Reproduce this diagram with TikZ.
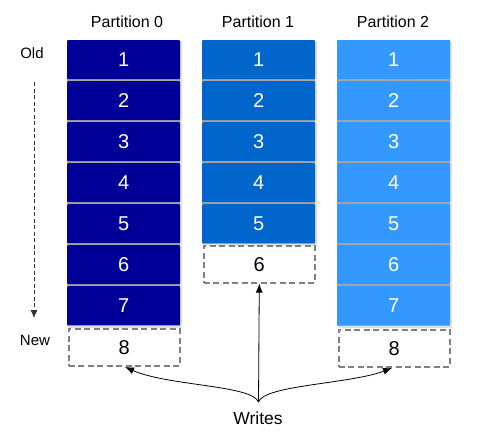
\documentclass[tikz,border=0pt]{standalone}
\usepackage{fontspec}
\setmainfont{Liberation Sans}
\usetikzlibrary{arrows.meta}
\definecolor{pzero}{RGB}{0,0,153}
\definecolor{pone}{RGB}{0,102,204}
\definecolor{ptwo}{RGB}{51,153,255}
\definecolor{sepgray}{RGB}{165,165,165}
\definecolor{dashgray}{RGB}{128,128,128}
\begin{document}
\begin{tikzpicture}[x=1pt,y=-1pt,
  blk/.style={anchor=north west,minimum width=113pt,minimum height=39pt,inner sep=0pt,rounded corners=1pt,text=white,font=\fontsize{20}{20}\selectfont},
  pending/.style={anchor=north west,minimum width=111pt,minimum height=37pt,inner sep=0pt,draw=dashgray,line width=1.6pt,dash pattern=on 6pt off 3.5pt,font=\fontsize{20}{20}\selectfont},
  title/.style={font=\fontsize{16}{16}\selectfont},
  side/.style={font=\fontsize{15}{15}\selectfont},
  wr/.style={-{Latex[length=9pt,width=7pt]},line width=0.8pt}]
\useasboundingbox (0,0) rectangle (503,432);
% column backgrounds (separators + soft shadow)
\fill[black!12] (68,41) rectangle (182,328);
\fill[sepgray] (67,40) rectangle (180,326);
\fill[black!12] (203,41) rectangle (317,246);
\fill[sepgray] (202,40) rectangle (315,244);
\fill[black!12] (338,41) rectangle (452,328);
\fill[sepgray] (337,40) rectangle (450,326);
% titles
\node[title] (t0) at (127,22) {Partition 0};
\node[title] (t1) at (258,22) {Partition 1};
\node[title] (t2) at (393,22) {Partition 2};
% partition 0
\foreach \i in {1,...,7}{
  \node[blk,fill=pzero] (a\i) at (67,{40+41*(\i-1)}) {\i};
}
\node[pending] (a8) at (68,328) {8};
% partition 1
\foreach \i in {1,...,5}{
  \node[blk,fill=pone] (b\i) at (202,{40+41*(\i-1)}) {\i};
}
\node[pending] (b6) at (203,245) {6};
% partition 2
\foreach \i in {1,...,7}{
  \node[blk,fill=ptwo] (c\i) at (337,{40+41*(\i-1)}) {\i};
}
\node[pending] (c8) at (338,329) {8};
% time axis
\node[side] (old) at (32,53) {Old};
\node[side] (new) at (35,340) {New};
\coordinate (axtop) at (34,82);
\coordinate (axbot) at (34,318);
\draw[black!80,line width=0.8pt,dash pattern=on 4pt off 2.5pt,-{Latex[length=8pt,width=7pt]}] (axtop) -- (axbot);
% writes
\node[font=\fontsize{17.5}{17.5}\selectfont] (writes) at (258,418) {Writes};
\coordinate (w) at (258.5,402);
\draw[wr] (w) -- (b6.south);
\draw[wr] (w) .. controls (252,385) and (168,386) .. (125,367);
\draw[wr] (w) .. controls (264,385) and (350,384) .. (392,368);
\end{tikzpicture}
\end{document}
